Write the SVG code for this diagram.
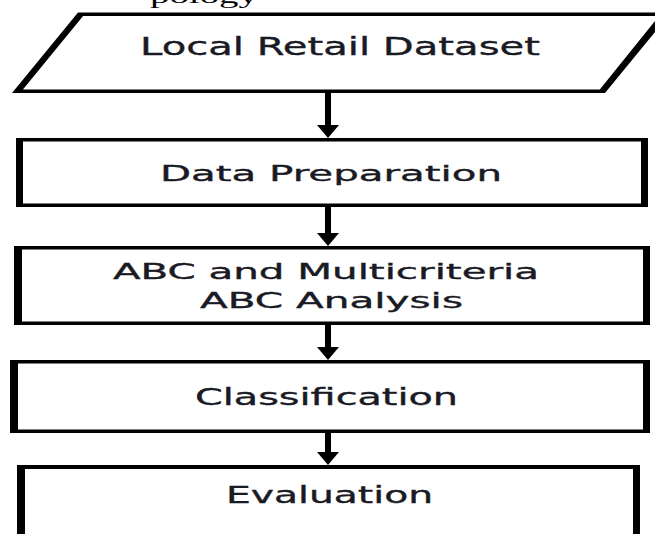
<svg xmlns="http://www.w3.org/2000/svg" width="655" height="534" viewBox="0 0 655 534">
  <style>
    .frame { fill: #000; fill-rule: evenodd; }
    .lbl { font-family: "DejaVu Sans", Verdana, sans-serif; fill: #1a1a24; stroke: #1a1a24; stroke-width: 0.35; }
    .cap { font-family: "Liberation Serif", "Times New Roman", serif; fill: #000; }
    .conn { stroke: #000; stroke-width: 6; fill: none; }
  </style>
  <defs>
    <marker id="head" markerUnits="userSpaceOnUse" markerWidth="13" markerHeight="22" viewBox="0 0 13 22" refX="0" refY="11" orient="auto">
      <path d="M0,0 L13,11 L0,22 Z" fill="#000"/>
    </marker>
  </defs>
  <rect x="0" y="0" width="655" height="534" fill="#fff"/>

  <text class="cap" x="150" y="3" font-size="22" textLength="108" lengthAdjust="spacingAndGlyphs">pology</text>

  <g id="node-dataset">
    <path class="frame" d="M78,12.5 L671,12.5 L605,93 L12,93 Z M83.1,16 L659,16 L599.8,89.5 L22.9,89.5 Z"/>
    <text class="lbl" x="140" y="55" font-size="25" textLength="400" lengthAdjust="spacingAndGlyphs">Local Retail Dataset</text>
  </g>

  <g id="node-preparation">
    <path class="frame" d="M16,138 H648 V207 H16 Z M23,141.5 V203.5 H641 V141.5 Z"/>
    <text class="lbl" x="160" y="181" font-size="22" textLength="342" lengthAdjust="spacingAndGlyphs">Data Preparation</text>
  </g>

  <g id="node-abc">
    <path class="frame" d="M14,246 H650 V325 H14 Z M22,249.5 V321.5 H643 V249.5 Z"/>
    <text class="lbl" x="113" y="279" font-size="21" textLength="426" lengthAdjust="spacingAndGlyphs">ABC and Multicriteria</text>
    <text class="lbl" x="200" y="308" font-size="21" textLength="263" lengthAdjust="spacingAndGlyphs">ABC Analysis</text>
  </g>

  <g id="node-classification">
    <path class="frame" d="M10,360 H650 V433 H10 Z M18,363.5 V429.5 H643 V363.5 Z"/>
    <text class="lbl" x="195" y="405" font-size="23" textLength="263" lengthAdjust="spacingAndGlyphs">Classification</text>
  </g>

  <g id="node-evaluation">
    <path class="frame" d="M17,540 V465 H640 V540 H633 V469 H25 V540 Z"/>
    <text class="lbl" x="226" y="503" font-size="23" textLength="207" lengthAdjust="spacingAndGlyphs">Evaluation</text>
  </g>

  <g id="connectors">
    <line class="conn" x1="328" y1="93" x2="328" y2="125" marker-end="url(#head)"/>
    <line class="conn" x1="328" y1="207" x2="328" y2="233" marker-end="url(#head)"/>
    <line class="conn" x1="328" y1="325" x2="328" y2="347" marker-end="url(#head)"/>
    <line class="conn" x1="328" y1="433" x2="328" y2="452" marker-end="url(#head)"/>
  </g>
</svg>
